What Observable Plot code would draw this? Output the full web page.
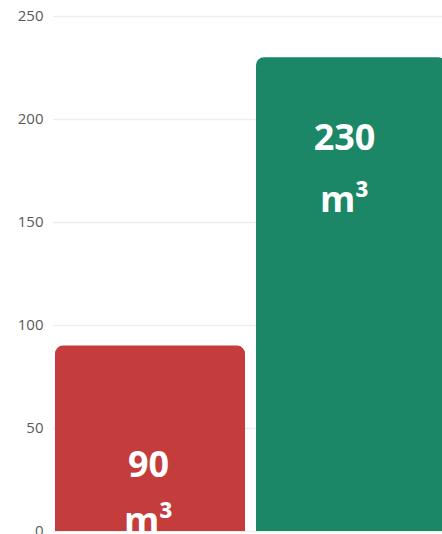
<!DOCTYPE html>
<html>
<head>
<meta charset="utf-8">
<script src="https://cdn.jsdelivr.net/npm/d3@7"></script>
<script src="https://cdn.jsdelivr.net/npm/@observablehq/plot@0.6"></script>
<style>
  html, body { margin: 0; padding: 0; background: #fff; overflow: hidden; }
  #chart svg { display: block; font-family: "Open Sans", sans-serif; }
</style>
</head>
<body>
<div id="chart"></div>
<script>
// Data
const categories = ["Bar A", "Bar B"];
const values = [90, 230];
const unitLabels = ["m³", "m³"];
const barColors = ["#c43c3c", "#1b8767"];
const yTicks = [0, 50, 100, 150, 200, 250];

const data = categories.map((c, i) => ({
  category: c,
  value: values[i],
  unit: unitLabels[i],
  color: barColors[i]
}));

// label offsets (styling, per bar)
const labelStyle = {
  "Bar A": {dx: -2, dyNum: 131, dyUnit: 187},
  "Bar B": {dx: -7, dyNum: 92, dyUnit: 154}
};

const textMarks = data.flatMap(d => {
  const s = labelStyle[d.category];
  const common = {
    x: "category", y: "value", fill: "white", fontSize: 36, fontWeight: "bold",
    fontFamily: "Open Sans", lineAnchor: "bottom", textAnchor: "middle", dx: s.dx
  };
  return [
    Plot.text([d], {...common, text: r => String(r.value), dy: s.dyNum}),
    Plot.text([d], {...common, text: "unit", dy: s.dyUnit})
  ];
});

const chart = Plot.plot({
  width: 442,
  height: 534,
  marginTop: 16,
  marginBottom: 3,
  marginLeft: 53,
  marginRight: 0,
  style: {background: "white", overflow: "hidden"},
  x: {domain: categories, range: [54, 446], paddingInner: 0.055, paddingOuter: 0, axis: null},
  y: {domain: [0, 250], axis: null},
  marks: [
    Plot.gridY(yTicks, {stroke: "#eeeeee", strokeOpacity: 1, strokeWidth: 1.5}),
    Plot.axisY(yTicks, {
      tickSize: 0, tickPadding: 10, fontSize: 15, fill: "#5a5a5a",
      fontFamily: "Open Sans", label: null
    }),
    Plot.barY(data, {x: "category", y: "value", fill: "color", ry1: 8, rx: 8}),
    ...textMarks
  ]
});

document.getElementById("chart").appendChild(chart);
</script>
</body>
</html>
